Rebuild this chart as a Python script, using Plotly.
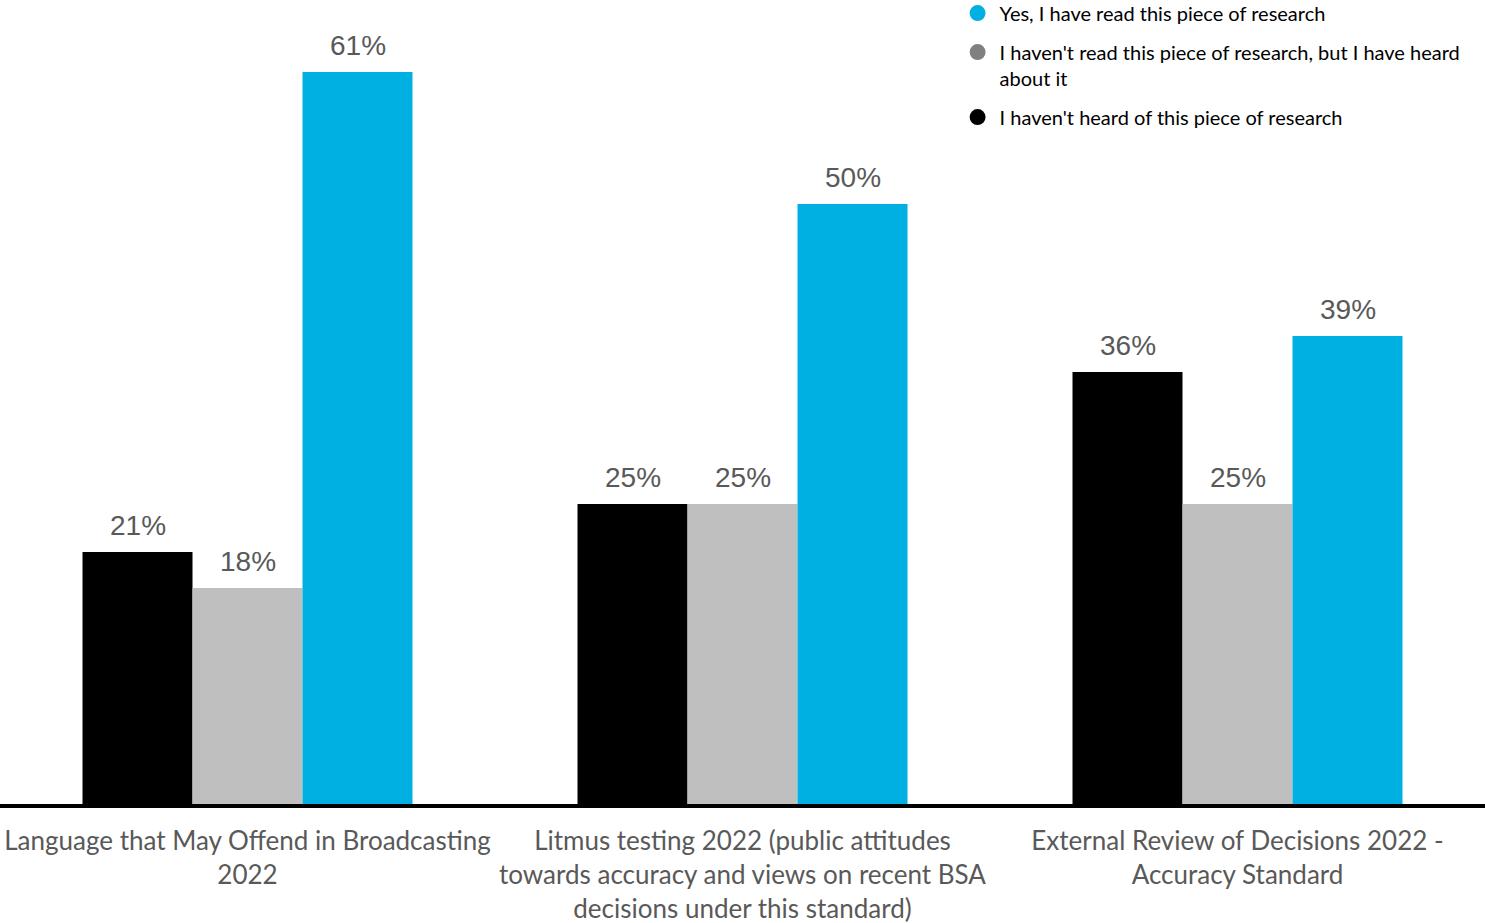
import plotly.graph_objects as go

categories = [
    "Language that May Offend in Broadcasting<br>2022",
    "Litmus testing 2022 (public attitudes<br>towards accuracy and views on recent BSA<br>decisions under this standard)",
    "External Review of Decisions 2022 -<br>Accuracy Standard",
]
not_heard = [21, 25, 36]
heard_not_read = [18, 25, 25]
have_read = [61, 50, 39]

series = [
    ("I haven't heard of this piece of research", not_heard, "#000000", "#000000"),
    ("I haven't read this piece of research, but I have heard<br>about it", heard_not_read, "#BFBFBF", "#808080"),
    ("Yes, I have read this piece of research", have_read, "#00B0E2", "#00B0E2"),
]

fig = go.Figure()
for i, (name, vals, color, _) in enumerate(series):
    fig.add_trace(go.Bar(
        x=categories, y=vals, name=name, marker_color=color, marker_line_width=0,
        offsetgroup=str(i), showlegend=False,
    ))

# legend entries drawn as round markers
for name, vals, _, lcolor in reversed(series):
    fig.add_trace(go.Scatter(
        x=[None], y=[None], mode="markers", name=name, legendgroup=name,
        marker=dict(symbol="circle", size=16, color=lcolor),
    ))

# value labels above each bar, placed at the bar's own value
n = len(series)
bar_w = (1 - 1/3) / n
for i, (name, vals, color, _) in enumerate(series):
    offset = -(1 - 1/3) / 2 + bar_w * (i + 0.5)
    for k, v in enumerate(vals):
        fig.add_annotation(
            x=k + offset, y=v, xref="x", yref="y", text=f"{v}%",
            showarrow=False, yanchor="middle", yshift=27,
            font=dict(family="Liberation Sans, Arial", size=28, color="#595959"),
        )

fig.update_layout(
    width=1485, height=923,
    margin=dict(l=0, r=0, t=0, b=119, autoexpand=False),
    paper_bgcolor="white", plot_bgcolor="white",
    barmode="group", bargap=1/3, bargroupgap=0,
    font=dict(family="Lato, Noto Sans, sans-serif"),
    legend=dict(
        x=0.6435, y=1.008, xanchor="left", yanchor="top",
        font=dict(family="Lato, Noto Sans, sans-serif", size=20, color="#000000"),
        bgcolor="rgba(0,0,0,0)", traceorder="grouped",
        itemwidth=34, tracegroupgap=10, valign="top",
    ),
    xaxis=dict(
        showline=True, linecolor="#000000", linewidth=4, showgrid=False,
        ticks="", tickfont=dict(family="Lato, Noto Sans, sans-serif", size=26, color="#595959"),
        ticklabelstandoff=11, automargin=False,
    ),
    yaxis=dict(range=[0, 67], visible=False, showgrid=False, zeroline=False, automargin=False),
)

fig.write_html("out.html")
